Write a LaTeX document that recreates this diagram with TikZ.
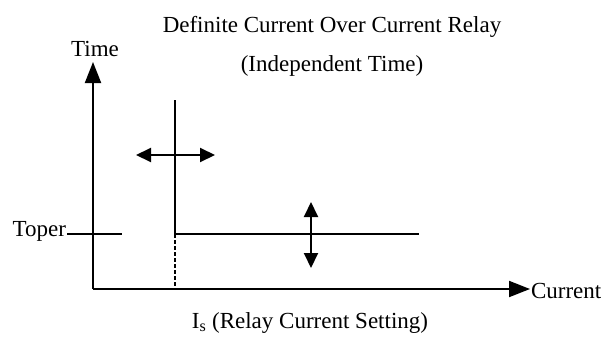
\documentclass[tikz,border=0pt]{standalone}
\usepackage{fontspec}
\setmainfont{Liberation Serif}
\usetikzlibrary{arrows.meta}

\begin{document}
\begin{tikzpicture}[x=1pt,y=-1pt,
  line width=2pt,
  axis/.style={-{Triangle[length=21pt,width=16pt]}},
  adjust/.style={{Triangle[length=15pt,width=14pt]}-{Triangle[length=15pt,width=14pt]}},
  every node/.style={font=\fontsize{23}{27}\selectfont, inner sep=0pt}]
\useasboundingbox (0,0) rectangle (602,343);
% axes
\coordinate (origin) at (93,289);
\coordinate (ytop) at (93,62);
\coordinate (xend) at (530,289);
\draw[axis] (origin) -- (ytop);
\draw[axis] (origin) -- (xend);
\node[anchor=base] (time) at (95,56) {Time};
\node[anchor=base west] (current) at (530,298) {Current};
% operating time level
\coordinate (t1) at (67,234);
\coordinate (t2) at (122,234);
\draw (t1) -- (t2);
\node[anchor=base east] (toper) at (67,236) {Toper};
% current setting
\coordinate (is) at (175,234);
\coordinate (istop) at (175,100);
\coordinate (isbot) at (175,288);
\coordinate (iend) at (419,234);
\draw (istop) -- (is) -- (iend);
\draw[dashed, dash pattern=on 4pt off 2pt] (is) -- (isbot);
% adjustment arrows
\coordinate (h1) at (136,155);
\coordinate (h2) at (215,155);
\draw[adjust] (h1) -- (h2);
\coordinate (v1) at (311,202);
\coordinate (v2) at (311,268);
\draw[adjust] (v1) -- (v2);
% titles
\node[anchor=base] (title) at (332,32) {Definite Current Over Current Relay};
\node[anchor=base] (subtitle) at (332,71) {(Independent Time)};
\node[anchor=base] (setting) at (310,328) {I\textsubscript{s} (Relay Current Setting)};
\end{tikzpicture}
\end{document}
